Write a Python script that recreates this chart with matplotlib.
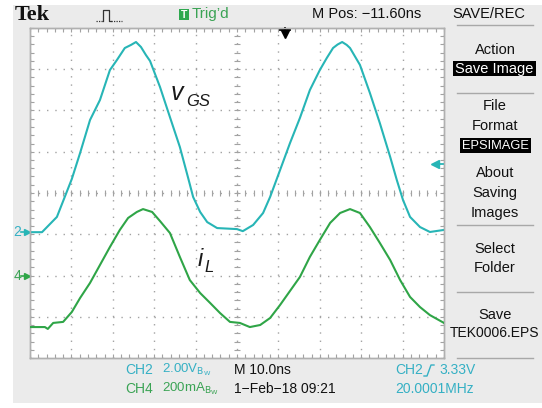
import numpy as np
import matplotlib
matplotlib.use('Agg')
import matplotlib.pyplot as plt
from matplotlib.patches import Rectangle
from matplotlib.lines import Line2D
from matplotlib.ticker import MultipleLocator, FixedLocator
import matplotlib.transforms as mtransforms

W, H = 542, 408

# ---- data (time in ns, vGS in V, iL in A) ----
t_vgs = [-50.0, -47.1, -43.5, -39.9, -37.9, -35.5, -33.1, -30.7, -29.0, -27.1,
         -25.6, -24.4, -23.2, -22.0, -21.0, -18.6, -16.2, -13.8, -11.8, -10.6, -8.9, -7.2,
         -4.8, 0.0, 1.4, 3.9, 6.3, 8.0, 9.7, 12.8, 15.2, 17.6,
         20.0, 21.7, 23.2, 24.3, 25.4, 26.5, 27.3, 29.7, 32.1, 34.5, 37.0, 38.6,
         40.1, 41.8, 44.2, 46.6, 50.0]
v_gs = [0.0, 0.0, 0.74, 2.58, 3.84, 5.44, 6.41, 7.86, 8.35, 8.93,
        9.08, 9.22, 8.98, 8.59, 8.30, 7.04, 5.58, 4.13, 2.63, 1.71, 0.98, 0.49,
        0.20, 0.15, 0.05, 0.35, 0.93, 1.71, 2.63, 4.32, 5.54, 6.89,
        7.86, 8.45, 8.93, 9.10, 9.22, 9.08, 8.93, 8.11, 6.75, 5.29, 3.65, 2.53,
        1.56, 0.74, 0.25, 0.01, 0.11]

t_il = [-50.0, -46.4, -45.7, -44.4, -42.0, -39.9, -37.9, -35.5, -33.1, -30.7,
        -28.3, -26.3, -24.2, -22.7, -20.5, -18.6, -16.2, -13.8, -11.4, -8.9,
        -6.5, -4.1, -1.7, 0.7, 3.1, 5.6, 8.0, 10.4, 12.8, 15.2,
        17.6, 20.0, 22.5, 24.9, 27.3, 29.7, 32.1, 34.5, 37.0, 39.4,
        41.8, 44.2, 46.6, 50.0]
i_l = [-0.248, -0.248, -0.257, -0.228, -0.223, -0.175, -0.107, -0.034, 0.053, 0.140,
       0.223, 0.281, 0.310, 0.324, 0.310, 0.266, 0.208, 0.092, -0.020, -0.083,
       -0.131, -0.180, -0.223, -0.228, -0.248, -0.238, -0.204, -0.141, -0.073, -0.005,
       0.092, 0.174, 0.257, 0.305, 0.324, 0.305, 0.237, 0.160, 0.077, -0.020,
       -0.102, -0.151, -0.190, -0.228]

# scope settings
time_per_div = 10.0      # ns
ch2_per_div = 2.0        # V
ch4_per_div = 0.2        # A
ch2_pos = 3.05           # divisions from bottom
ch4_pos = 1.99
trig_level = 3.33        # V
trig_time = 11.6         # ns

menu_items = ["Action", "File", "Format", "About", "Saving", "Images",
              "Select", "Folder", "Save", "TEK0006.EPS"]

CYAN = '#27b5b6'
GREEN = '#2fa547'
CYAN_T = '#35b0c4'
GREEN_T = '#3aa354'
GRID = '#a2a2a2'
BG = '#ebebeb'
SANS = ['Liberation Sans', 'DejaVu Sans']

plt.rcParams['font.family'] = SANS

fig = plt.figure(figsize=(W / 100, H / 100), dpi=100, facecolor='white')

def fx(x):
    return x / W

def fy(y):
    return 1 - y / H

# gray panel
fig.add_artist(Rectangle((fx(13), fy(403)), fx(W) - fx(13), fy(5) - fy(403),
                         transform=fig.transFigure, facecolor=BG, edgecolor='none', zorder=0))

ax = fig.add_axes([fx(30), fy(358), fx(444) - fx(30), fy(28) - fy(358)])
ax.set_facecolor('white')
ax.set_xlim(-5 * time_per_div, 5 * time_per_div)
ax.set_ylim(-ch2_pos * ch2_per_div, (8 - ch2_pos) * ch2_per_div)
ax2 = ax.twinx()
ax2.set_ylim(-ch4_pos * ch4_per_div, (8 - ch4_pos) * ch4_per_div)

y0, y1 = ax.get_ylim()
ax.xaxis.set_major_locator(MultipleLocator(time_per_div))
ax.xaxis.set_minor_locator(MultipleLocator(time_per_div / 5))
ax.yaxis.set_major_locator(FixedLocator(y0 + ch2_per_div * np.arange(9)))
ax.yaxis.set_minor_locator(FixedLocator(y0 + ch2_per_div / 5 * np.arange(41)))
ax.tick_params(which='both', direction='in', top=True, right=True, bottom=True, left=True,
               labelbottom=False, labelleft=False, color=GRID, length=3, width=0.8)
ax2.tick_params(which='both', right=False, labelright=False)
for sp in list(ax.spines.values()) + list(ax2.spines.values()):
    sp.set_color('#b0b0b0')
    sp.set_linewidth(1.0)
ax.grid(which='major', color=GRID, linestyle=(0, (1, 4.95)), linewidth=1)
ax.set_axisbelow(True)

# center cross ticks
yc = y0 + 4 * ch2_per_div
xs = np.arange(-50, 50.01, time_per_div / 5)
ax.plot(xs, [yc] * len(xs), ls='none', marker='|', ms=4, mew=0.8, color=GRID, zorder=1)
ys = y0 + ch2_per_div / 5 * np.arange(41)
ax.plot([0] * len(ys), ys, ls='none', marker='_', ms=4, mew=0.8, color=GRID, zorder=1)

# traces
ax.plot(t_vgs, v_gs, color=CYAN, lw=1.5, zorder=3, solid_joinstyle='round')
ax2.plot(t_il, i_l, color=GREEN, lw=1.5, zorder=3, solid_joinstyle='round')

# trigger level arrow (right)
ax.plot([47.6, 50], [trig_level, trig_level], color=CYAN, lw=1.3, clip_on=False, zorder=4)
ax.plot([47.9], [trig_level], marker='<', ms=6, color=CYAN, clip_on=False, zorder=4)

# trigger position arrow (top)
tr = mtransforms.blended_transform_factory(ax.transData, ax.transAxes)
ax.plot([trig_time, trig_time], [1.0, 0.985], transform=tr, color='black', lw=1.3, clip_on=False, zorder=5)
ax.plot([trig_time], [0.983], transform=tr, marker='v', ms=6, color='black', clip_on=False, zorder=5)
ax.plot([trig_time - 1.2, trig_time + 1.2], [0.995, 0.995], transform=tr, color='black', lw=1.3,
        clip_on=False, zorder=5)

# ground markers (left)
tl = mtransforms.blended_transform_factory(ax.transAxes, ax.transData)
tl2 = mtransforms.blended_transform_factory(ax.transAxes, ax2.transData)
dx = 1 / (444 - 30)
ax.text(-9 * dx, 0, '2', transform=tl, color=CYAN_T, fontsize=10, ha='right', va='center')
ax.plot([-9 * dx, -3 * dx], [0, 0], transform=tl, color=CYAN, lw=1.2, clip_on=False)
ax.plot([-3 * dx], [0], transform=tl, marker='>', ms=5, color=CYAN, clip_on=False)
ax2.text(-9 * dx, 0, '4', transform=tl2, color=GREEN_T, fontsize=10, ha='right', va='center')
ax2.plot([-9 * dx, -3 * dx], [0, 0], transform=tl2, color=GREEN, lw=1.2, clip_on=False)
ax2.plot([-3 * dx], [0], transform=tl2, marker='>', ms=5, color=GREEN, clip_on=False)

# waveform labels
fig.text(fx(171), fy(93), 'v', fontsize=18, style='italic', color='#1a1a1a', ha='left', va='center')
fig.text(fx(186), fy(101), 'GS', fontsize=12, style='italic', color='#1a1a1a', ha='left', va='center')
fig.text(fx(198), fy(259), 'i', fontsize=17, style='italic', color='#1a1a1a', ha='left', va='center')
fig.text(fx(204), fy(267), 'L', fontsize=12, style='italic', color='#1a1a1a', ha='left', va='center')

# header
fig.text(fx(15), fy(15), 'Tek', fontsize=16, fontweight='bold', family=['Liberation Serif', 'DejaVu Serif'],
         ha='left', va='center', color='#111111')
fig.add_artist(Line2D([fx(96), fx(103)], [fy(21), fy(21)], transform=fig.transFigure,
                      color='#333333', lw=0.9, linestyle=(0, (1, 1))))
fig.add_artist(Line2D([fx(103), fx(103), fx(109), fx(109), fx(111)],
                      [fy(21), fy(10), fy(10), fy(21), fy(21)],
                      transform=fig.transFigure, color='#333333', lw=0.9))
fig.add_artist(Line2D([fx(111), fx(122)], [fy(21), fy(21)], transform=fig.transFigure,
                      color='#333333', lw=0.9, linestyle=(0, (1, 1))))
fig.add_artist(Rectangle((fx(179), fy(20)), fx(189) - fx(179), fy(9) - fy(20),
                         transform=fig.transFigure, facecolor='#2fa84f', edgecolor='none'))
fig.text(fx(184), fy(14.5), 'T', fontsize=7.5, color='white', ha='center', va='center', fontweight='bold')
fig.text(fx(192), fy(14), "Trig\u2019d", fontsize=11, color=GREEN_T, ha='left', va='center')
fig.text(fx(312), fy(14), 'M Pos: \u221211.60ns', fontsize=10.5, color='#111111', ha='left', va='center')
fig.text(fx(489), fy(14), 'SAVE/REC', fontsize=10.5, color='#111111', ha='center', va='center')

# right menu
menu_y = [50, 106, 126, 173, 193, 213, 249, 268, 315, 333]
for s, y in zip(menu_items, menu_y):
    fig.text(fx(495), fy(y), s, fontsize=10.5 if s != 'TEK0006.EPS' else 10,
             color='#111111', ha='center', va='center')
for (x0b, x1b, y0b, y1b, s, fs) in [(453, 536, 61, 76, 'Save Image', 10.5),
                                     (460, 531, 138, 153, 'EPSIMAGE', 9.3)]:
    fig.add_artist(Rectangle((fx(x0b), fy(y1b)), fx(x1b) - fx(x0b), fy(y0b) - fy(y1b),
                             transform=fig.transFigure, facecolor='black', edgecolor='none'))
    fig.text(fx((x0b + x1b) / 2), fy((y0b + y1b) / 2 + 0.5), s, fontsize=fs, color='white',
             ha='center', va='center')
for y in [25, 93, 225, 292, 358]:
    fig.add_artist(Line2D([fx(457), fx(533)], [fy(y), fy(y)], transform=fig.transFigure,
                          color='#a8a8a8', lw=1.0))

# bottom status
fig.text(fx(125), fy(370), 'CH2', fontsize=10, color=CYAN_T, ha='left', va='center')
fig.text(fx(162), fy(370), '2.00V' + r'$_{\mathrm{B_W}}$', fontsize=9.5, color=CYAN_T,
         ha='left', va='center')
fig.text(fx(125), fy(389), 'CH4', fontsize=10, color=GREEN_T, ha='left', va='center')
fig.text(fx(162), fy(389), '200mA' + r'$_{\mathrm{B_W}}$', fontsize=9.5, color=GREEN_T,
         ha='left', va='center')

fig.text(fx(234), fy(370), 'M 10.0ns', fontsize=10, color='#111111', ha='left', va='center')
fig.text(fx(234), fy(389), '1\u2212Feb\u221218 09:21', fontsize=10, color='#111111', ha='left', va='center')
fig.text(fx(395), fy(370), 'CH2', fontsize=10, color=CYAN_T, ha='left', va='center')
fig.add_artist(Line2D([fx(424), fx(427), fx(431), fx(434)], [fy(376), fy(376), fy(365), fy(365)],
                      transform=fig.transFigure, color=CYAN_T, lw=1.0))
fig.text(fx(439), fy(370), '3.33V', fontsize=10, color=CYAN_T, ha='left', va='center')
fig.text(fx(395), fy(389), '20.0001MHz', fontsize=10, color=CYAN_T, ha='left', va='center')

fig.savefig('out.png', dpi=100, facecolor='white')
